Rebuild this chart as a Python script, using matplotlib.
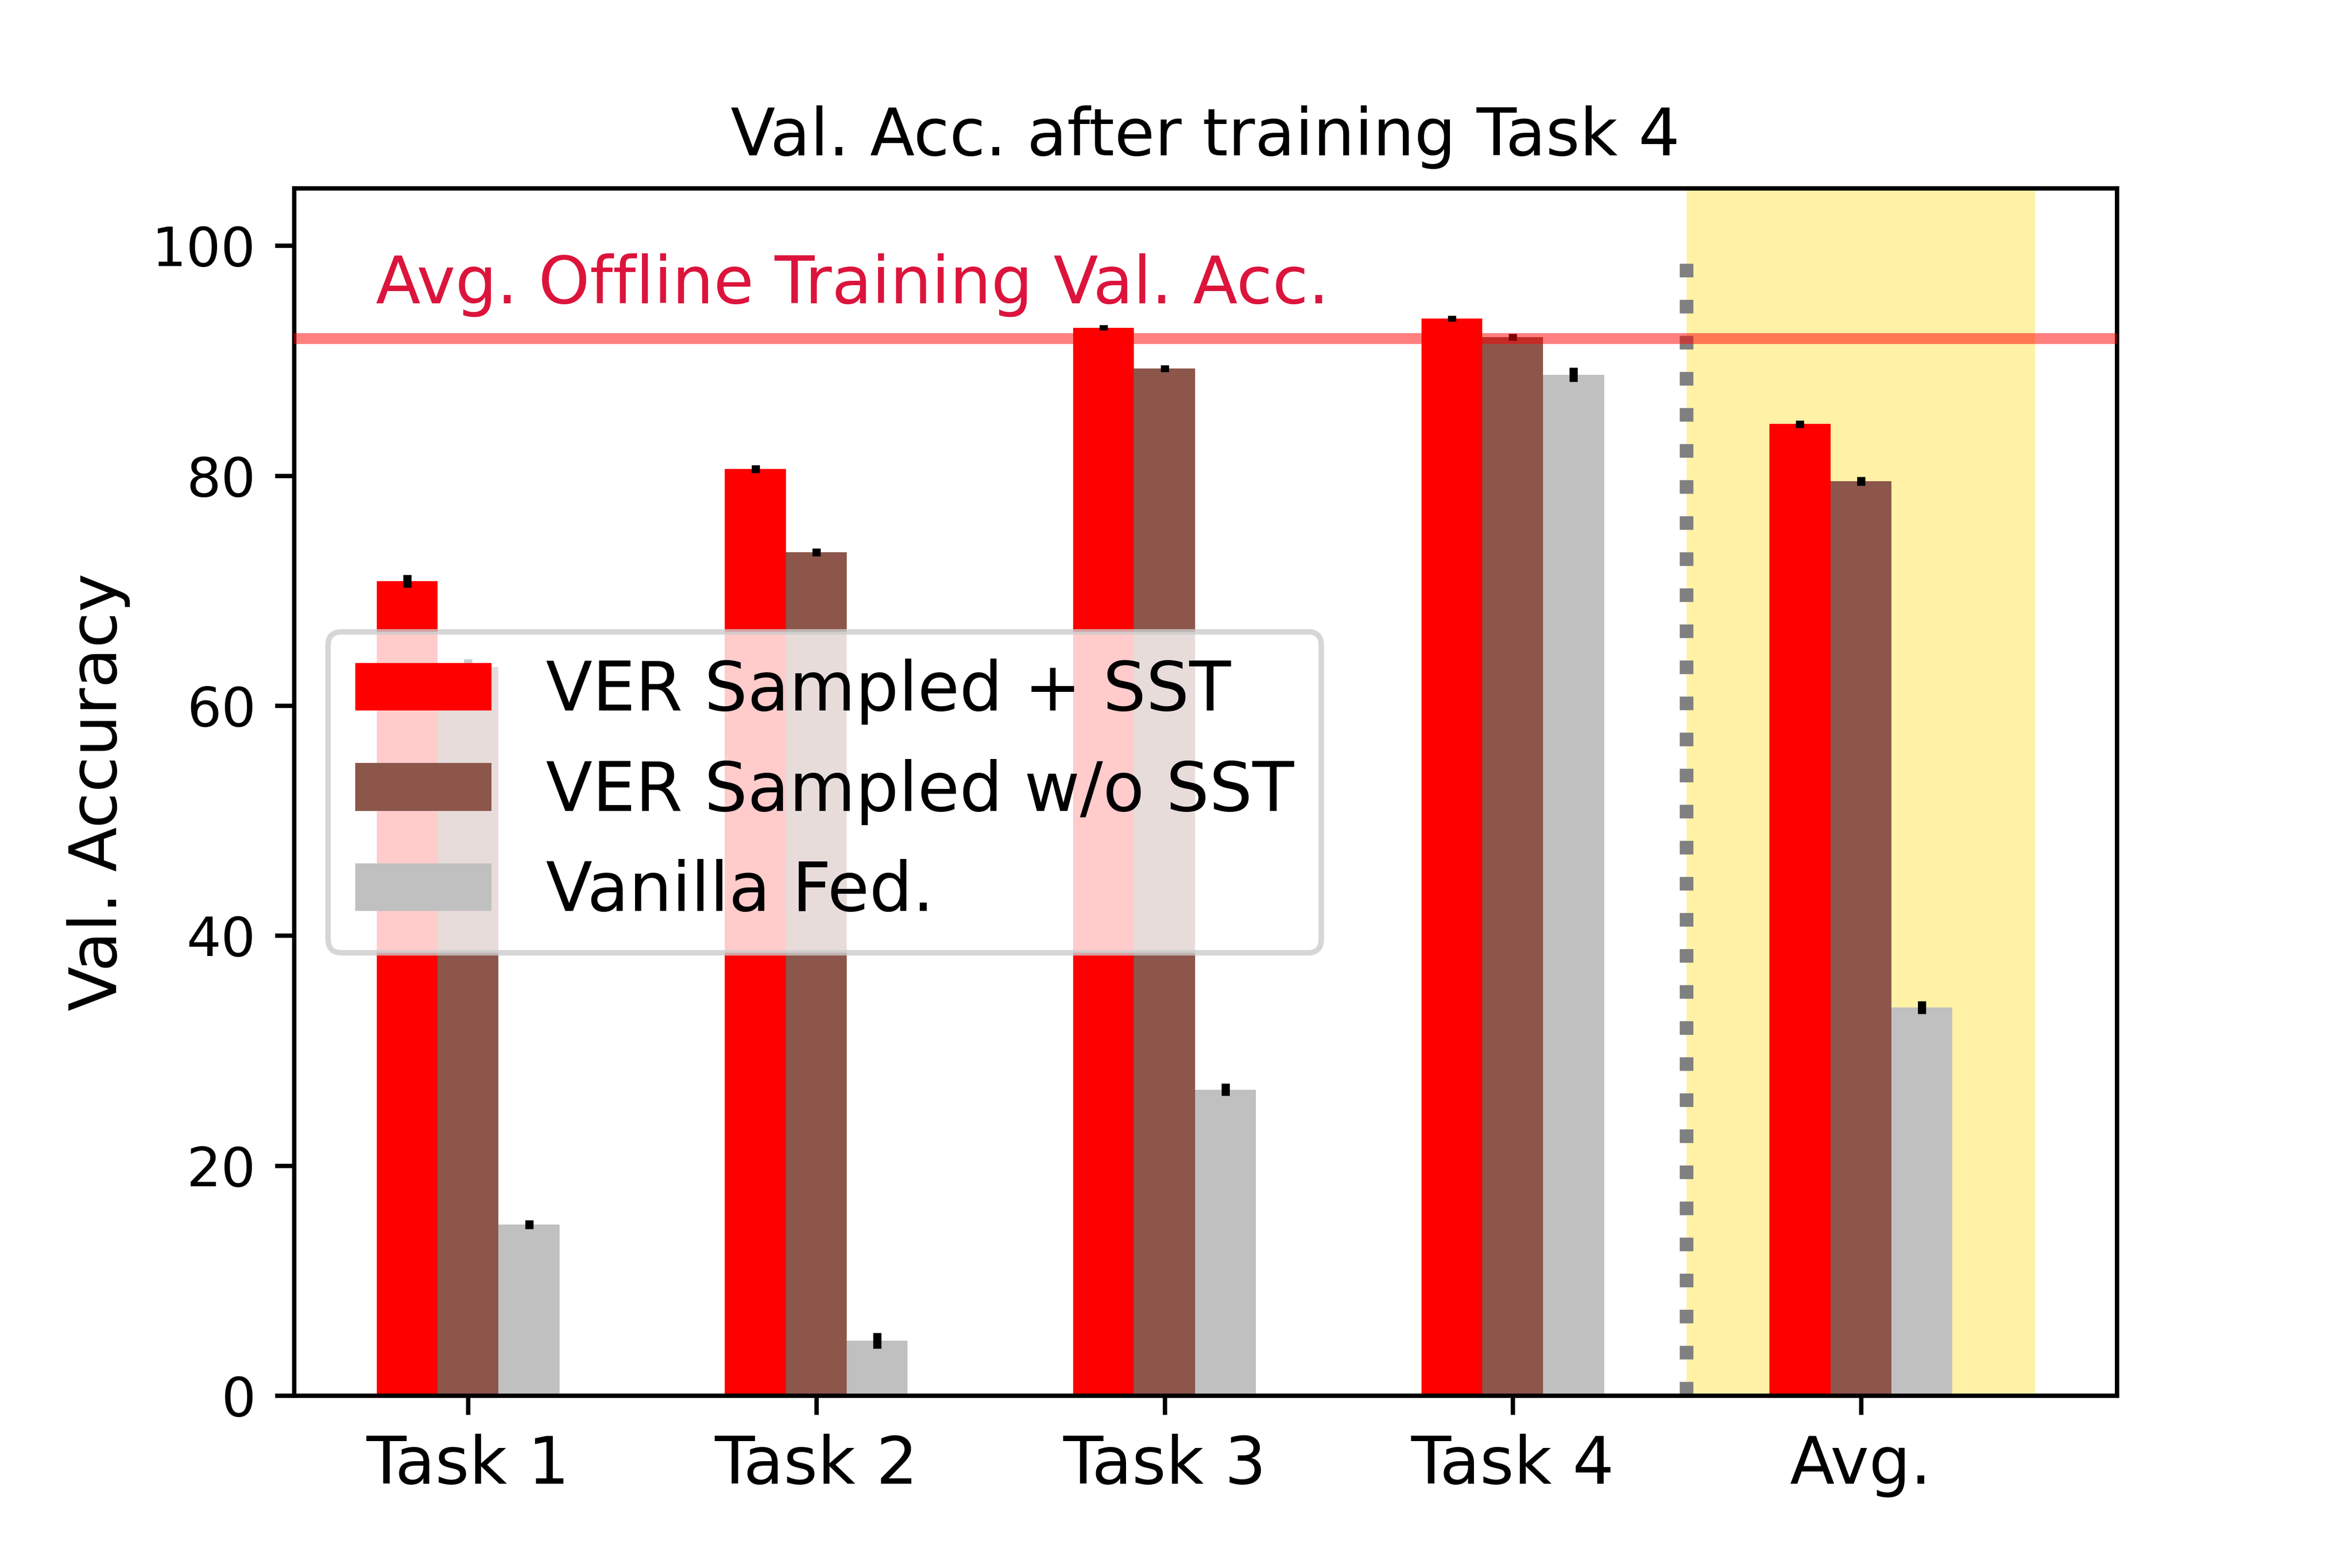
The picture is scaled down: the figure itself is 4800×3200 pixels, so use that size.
import numpy as np
import matplotlib
matplotlib.use("Agg")
import matplotlib.pyplot as plt

categories = ["Task 1", "Task 2", "Task 3", "Task 4", "Avg."]
series_names = ["VER Sampled + SST", "VER Sampled w/o SST", "Vanilla Fed."]
ver_sst = [70.83, 80.59, 92.86, 93.67, 84.49]
ver_sst_err = [0.55, 0.33, 0.23, 0.27, 0.32]
ver_nosst = [63.37, 73.34, 89.32, 92.05, 79.52]
ver_nosst_err = [0.68, 0.33, 0.31, 0.31, 0.40]
vanilla = [14.87, 4.77, 26.61, 88.77, 33.75]
vanilla_err = [0.40, 0.67, 0.53, 0.62, 0.54]
offline_acc = 91.9
offline_label = "Avg. Offline Training Val. Acc."
title = "Val. Acc. after training Task 4"
ylabel = "Val. Accuracy"

colors = ["#FF0000", "#8C564B", "#C0C0C0"]

fig, ax = plt.subplots(figsize=(6, 4), dpi=800)
x = np.arange(len(categories))
w = 0.175

ax.axvspan(3.5, 4.5, color="gold", alpha=0.35, lw=0, zorder=0)
ax.vlines(3.5, 0, 100, colors="gray", linestyles=":", lw=2.5, zorder=1.5)

for i, (vals, errs) in enumerate([(ver_sst, ver_sst_err),
                                  (ver_nosst, ver_nosst_err),
                                  (vanilla, vanilla_err)]):
    ax.bar(x + (i - 1) * w, vals, w, yerr=errs, color=colors[i],
           label=series_names[i], ecolor="black",
           error_kw=dict(elinewidth=1.5, capsize=0))

ax.axhline(offline_acc, color="red", alpha=0.5, lw=2, zorder=3)
ax.text(-0.265, 95, offline_label, color="crimson", fontsize=12,
        ha="left", va="baseline")

ax.set_xlim(-0.5, 4.735)
ax.set_ylim(0, 105)
ax.set_xticks(x)
ax.set_xticklabels(categories, fontsize=12)
ax.set_yticks([0, 20, 40, 60, 80, 100])
ax.set_ylabel(ylabel, fontsize=12)
ax.set_title(title, fontsize=12)
ax.legend(loc="center left", fontsize=12.5)

fig.savefig("out.png", dpi=800)
